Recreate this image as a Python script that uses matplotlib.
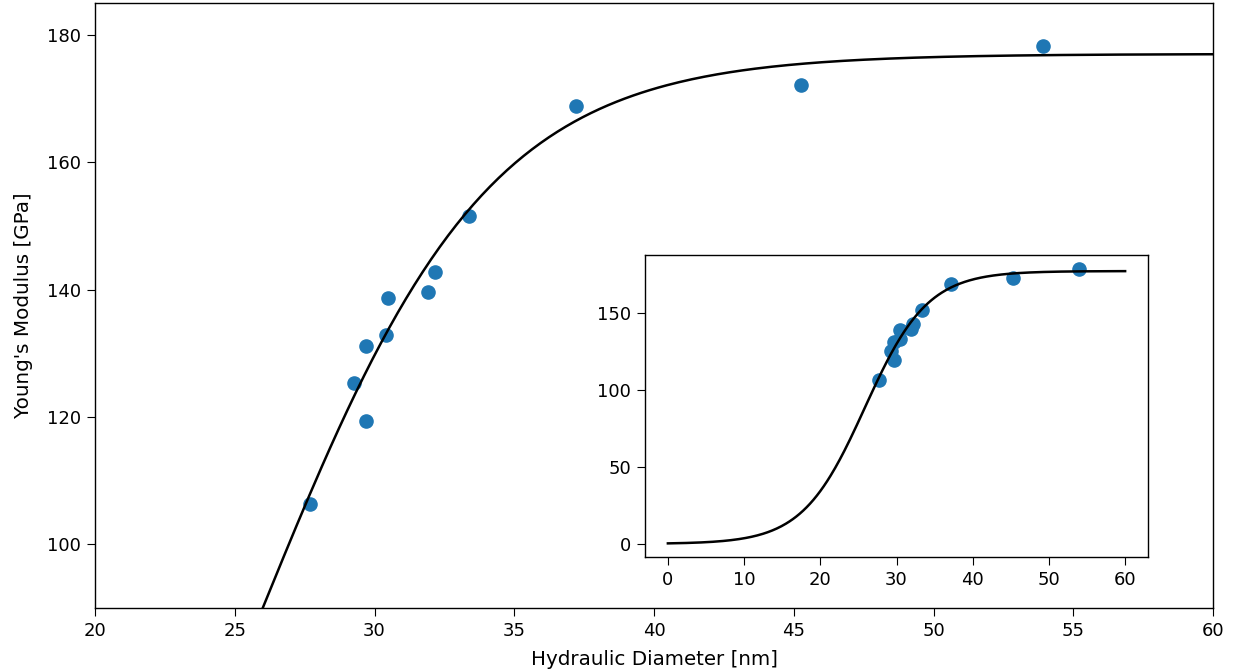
import numpy as np
import matplotlib.pyplot as plt

# measured points
diameter = [27.69, 29.27, 29.70, 29.70, 30.41, 30.48, 31.91, 32.16, 33.38, 37.21, 45.26, 53.92]
modulus = [106.4, 125.4, 131.1, 119.3, 132.9, 138.7, 139.7, 142.8, 151.5, 168.9, 172.2, 178.3]

# logistic fit parameters
E_max = 177.0
k_fit = 0.2436
d0_fit = 25.86

d_fit = np.linspace(0, 60, 400)
E_fit = E_max / (1 + np.exp(-k_fit * (d_fit - d0_fit)))

plt.rcParams['xtick.labelsize'] = 13
plt.rcParams['ytick.labelsize'] = 13
plt.rcParams['axes.labelsize'] = 14.3
plt.rcParams['xtick.major.size'] = 5.5
plt.rcParams['ytick.major.size'] = 5.5
plt.rcParams['xtick.major.pad'] = 4.5
plt.rcParams['ytick.major.pad'] = 4.5
plt.rcParams['axes.linewidth'] = 1.0

fig = plt.figure(figsize=(12.34, 6.72), dpi=100)
ax = fig.add_axes([0.077, 0.0952, 0.906, 0.9003])
ax.scatter(diameter, modulus, s=90, color='#1f77b4')
ax.plot(d_fit, E_fit, color='black', linewidth=1.8)
ax.set_xlim(20, 60)
ax.set_ylim(90, 185)
ax.set_xlabel('Hydraulic Diameter [nm]', labelpad=7)
ax.set_ylabel("Young's Modulus [GPa]", labelpad=10)

ins = fig.add_axes([0.5227, 0.171, 0.4076, 0.449])
ins.scatter(diameter, modulus, s=90, color='#1f77b4')
ins.plot(d_fit, E_fit, color='black', linewidth=1.8)
ins.set_xticks([0, 10, 20, 30, 40, 50, 60])
ins.set_yticks([0, 50, 100, 150])

fig.savefig('out.png', dpi=100)
